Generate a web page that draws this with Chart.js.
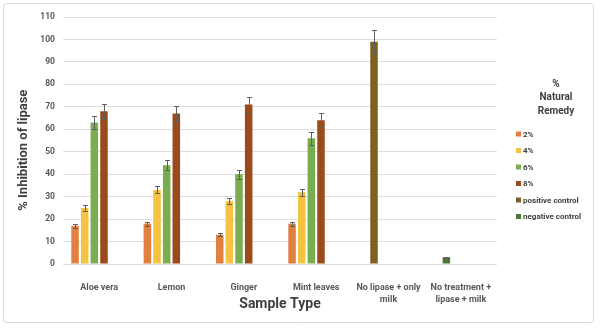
<!DOCTYPE html>
<html>
<head>
<meta charset="utf-8">
<script src="https://cdn.jsdelivr.net/npm/chart.js@4"></script>
<style>
  html, body { margin: 0; padding: 0; background: #fff; }
</style>
</head>
<body>
<canvas id="lipaseChart" width="600" height="329"></canvas>
<script>
// Data
const categories = ['Aloe vera', 'Lemon', 'Ginger', 'Mint leaves', ['No lipase + only', 'milk'], ['No treatment +', 'lipase + milk']];
const yMax = 110;
const yStep = 10;

const pct2 = [17, 18, 13, 18, null, null];
const pct4 = [25, 33, 28, 32, null, null];
const pct6 = [63, 44, 40, 56, null, null];
const pct8 = [68, 67, 71, 64, null, null];
const positiveControl = [null, null, null, null, 99, null];
const negativeControl = [null, null, null, null, null, 3];

// error bar half-lengths
const err2 = [0.9, 0.9, 0.6, 0.9, null, null];
const err4 = [1.2, 1.6, 1.4, 1.6, null, null];
const err6 = [3.1, 2.2, 2.0, 2.8, null, null];
const err8 = [3.4, 3.3, 3.5, 3.2, null, null];
const errPositive = [null, null, null, null, 5.0, null];
const errNegative = [null, null, null, null, null, 0.2];

const FONT = 'Roboto, "Liberation Sans", sans-serif';
const emptyRow = categories.map(() => null);

// outer frame
const framePlugin = {
  id: 'frame',
  beforeDraw(chart) {
    const c = chart.ctx;
    c.save();
    c.fillStyle = '#fff';
    c.fillRect(0, 0, chart.width, chart.height);
    c.strokeStyle = '#d9d9d9';
    c.lineWidth = 1;
    c.beginPath();
    c.roundRect(3.5, 3.5, 590, 319, 3);
    c.stroke();
    c.restore();
  }
};

// error bars drawn on top of the bars
const errorBarPlugin = {
  id: 'errorBars',
  afterDatasetsDraw(chart) {
    const c = chart.ctx;
    const y = chart.scales.y;
    c.save();
    c.strokeStyle = '#5f5f5f';
    c.lineWidth = 1;
    chart.data.datasets.forEach((ds, i) => {
      if (!ds.errors) return;
      const meta = chart.getDatasetMeta(i);
      meta.data.forEach((bar, j) => {
        const v = ds.data[j];
        const e = ds.errors[j];
        if (v == null || e == null) return;
        const x = Math.round(bar.x) + 0.5;
        const top = Math.round(y.getPixelForValue(v + e)) + 0.5;
        const bot = Math.round(y.getPixelForValue(v - e)) + 0.5;
        c.beginPath();
        c.moveTo(x, top); c.lineTo(x, bot);
        c.moveTo(x - 2.5, top); c.lineTo(x + 2.5, top);
        c.moveTo(x - 2.5, bot); c.lineTo(x + 2.5, bot);
        c.stroke();
      });
    });
    c.restore();
  }
};

// legend on the right with a three line title
const legendPlugin = {
  id: 'sideLegend',
  afterDraw(chart) {
    const c = chart.ctx;
    c.save();
    c.fillStyle = '#404040';
    c.textAlign = 'center';
    c.textBaseline = 'middle';
    c.font = 'bold 10px ' + FONT;
    ['%', 'Natural', 'Remedy'].forEach((t, i) => c.fillText(t, 556, 84 + i * 13.5));
    c.font = 'bold 8px ' + FONT;
    c.textAlign = 'left';
    const items = chart.data.datasets.filter(d => d.label);
    items.forEach((d, i) => {
      const yy = 134 + i * 16.5;
      c.fillStyle = d.backgroundColor;
      c.fillRect(516, yy - 2.5, 5, 5);
      c.fillStyle = '#404040';
      c.fillText(d.label, 523, yy + 0.5);
    });
    c.restore();
  }
};

const ctx = document.getElementById('lipaseChart').getContext('2d');
const lipaseChart = new Chart(ctx, {
  type: 'bar',
  data: {
    labels: categories,
    datasets: [
      { label: '2%', data: pct2, errors: err2, backgroundColor: '#e2803f', stack: 's1' },
      { label: '4%', data: pct4, errors: err4, backgroundColor: '#f5c242', stack: 's2' },
      { label: '6%', data: pct6, errors: err6, backgroundColor: '#7aad50', stack: 's3' },
      { label: '8%', data: pct8, errors: err8, backgroundColor: '#9a4a1d', stack: 's4' },
      { label: 'positive control', data: positiveControl, errors: errPositive, backgroundColor: '#806022', stack: 's2' },
      { label: 'negative control', data: negativeControl, errors: errNegative, backgroundColor: '#4c7734', stack: 's2' },
      // empty slots so each category keeps six bar positions
      { label: '', data: emptyRow, stack: 's5' },
      { label: '', data: emptyRow, stack: 's6' }
    ]
  },
  options: {
    responsive: false,
    animation: false,
    categoryPercentage: 0.8,
    barPercentage: 0.78,
    layout: { padding: { left: 8, top: 17, right: 103, bottom: 15 } },
    plugins: {
      legend: { display: false },
      tooltip: { enabled: false }
    },
    scales: {
      x: {
        grid: { display: false },
        border: { display: false },
        ticks: {
          color: '#595959',
          padding: 9,
          maxRotation: 0,
          autoSkip: false,
          font: { family: FONT, size: 9, weight: 'bold', lineHeight: 1.4 }
        },
        title: {
          display: true,
          text: 'Sample Type',
          color: '#404040',
          padding: { top: 0, bottom: 1 },
          font: { family: FONT, size: 14, weight: 'bold' }
        },
        afterFit: s => { s.height = 50; }
      },
      y: {
        min: 0,
        max: yMax,
        grid: { color: '#dedede', drawTicks: false },
        border: { display: false },
        ticks: {
          stepSize: yStep,
          color: '#595959',
          padding: 8,
          font: { family: FONT, size: 8.5, weight: 'bold' }
        },
        title: {
          display: true,
          // trailing spaces push the rotated title a little lower, as in the source
          text: '% Inhibition of lipase\u00a0\u00a0\u00a0\u00a0\u00a0\u00a0',
          color: '#404040',
          padding: { top: 8, bottom: 0 },
          font: { family: FONT, size: 13, weight: 'bold' }
        },
        afterFit: s => { s.width = 55; }
      }
    }
  },
  plugins: [framePlugin, errorBarPlugin, legendPlugin]
});
</script>
</body>
</html>
